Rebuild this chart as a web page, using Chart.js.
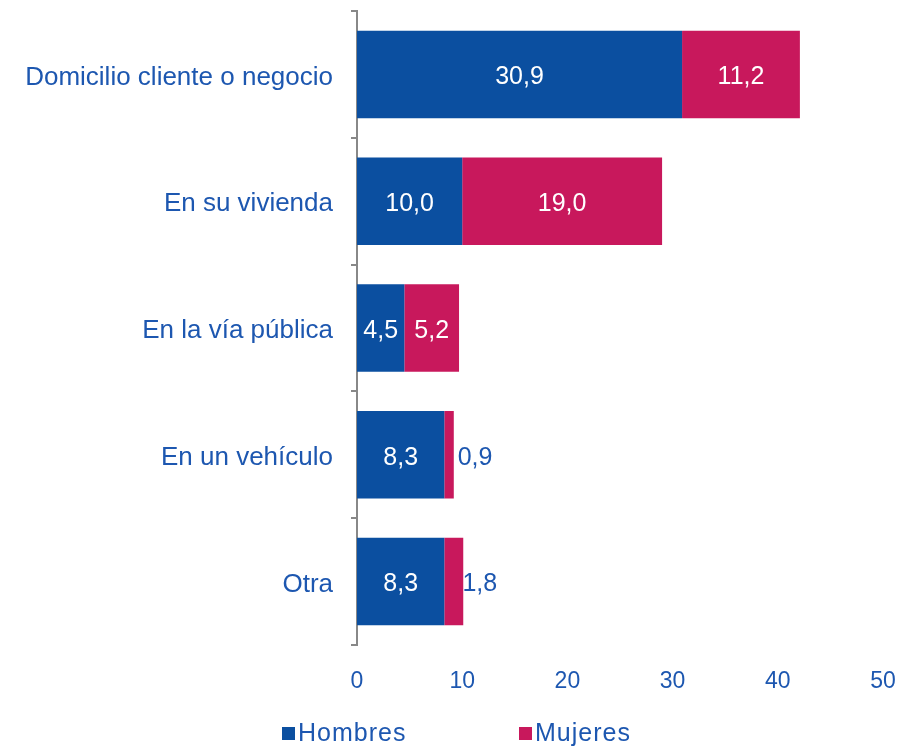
<!DOCTYPE html>
<html lang="es">
<head>
    <meta charset="UTF-8">
    <title>Lugar de trabajo por sexo</title>
    <style>
        body { margin: 0; background: #fff; }
        #wrap { position: relative; width: 897px; height: 746px; font-family: 'Liberation Sans', Arial, sans-serif; }
        .legend-item { position: absolute; top: 717px; font-size: 25px; color: #1d57b0; line-height: 30px; white-space: nowrap; letter-spacing: 1px; }
        .legend-item i { display: inline-block; width: 13px; height: 13px; margin-right: 3px; vertical-align: 1px; }
    </style>
</head>
<body>
    <div id="wrap">
        <canvas id="chart" width="897" height="746" role="img" aria-label="Lugar de trabajo por sexo"></canvas>
        <div class="legend-item" style="left: 282px;"><i style="background:#0b4fa0"></i>Hombres</div>
        <div class="legend-item" style="left: 519px;"><i style="background:#c8185c"></i>Mujeres</div>
    </div>

    <script src="https://cdn.jsdelivr.net/npm/chart.js@4"></script>
    <script>
    const categories = ['Domicilio cliente o negocio', 'En su vivienda', 'En la vía pública', 'En un vehículo', 'Otra'];
    const hombres = [30.9, 10.0, 4.5, 8.3, 8.3];
    const mujeres = [11.2, 19.0, 5.2, 0.9, 1.8];
    const xTicks = [0, 10, 20, 30, 40, 50];

    const blue = '#0b4fa0';
    const pink = '#c8185c';
    const textBlue = '#1d57b0';
    const font = 'Liberation Sans, Arial, sans-serif';

    // value inside each segment; the thin ones get it just to the right, in blue
    const valueLabels = {
        id: 'valueLabels',
        afterDatasetsDraw(chart) {
            const ctx = chart.ctx;
            ctx.save();
            ctx.font = '25px ' + font;
            ctx.textAlign = 'center';
            ctx.textBaseline = 'middle';
            chart.data.datasets.forEach((ds, i) => {
                chart.getDatasetMeta(i).data.forEach((bar, j) => {
                    const v = ds.data[j];
                    const w = Math.abs(bar.x - bar.base);
                    let x = (bar.x + bar.base) / 2;
                    if (w < 30) {
                        ctx.fillStyle = textBlue;
                        x += 26;
                    } else {
                        ctx.fillStyle = '#ffffff';
                    }
                    ctx.fillText(v.toFixed(1).replace('.', ','), x, bar.y + 3);
                });
            });
            ctx.restore();
        }
    };

    new Chart(document.getElementById('chart'), {
        type: 'bar',
        data: {
            labels: categories,
            datasets: [
                { label: 'Hombres', data: hombres, backgroundColor: blue, barPercentage: 1, categoryPercentage: 0.69 },
                { label: 'Mujeres', data: mujeres, backgroundColor: pink, barPercentage: 1, categoryPercentage: 0.69 }
            ]
        },
        options: {
            indexAxis: 'y',
            responsive: false,
            animation: false,
            layout: { padding: { top: 11, right: 14, left: 0, bottom: 0 } },
            scales: {
                x: {
                    stacked: true,
                    min: 0,
                    max: 50,
                    afterBuildTicks(scale) { scale.ticks = xTicks.map(v => ({ value: v })); },
                    afterFit(scale) {
                        scale.height = 101;
                        scale.paddingLeft = 0;
                        scale.paddingRight = 0;
                    },
                    grid: { display: false },
                    border: { display: false },
                    ticks: { color: textBlue, font: { family: font, size: 23 }, padding: 15 }
                },
                y: {
                    stacked: true,
                    afterFit(scale) {
                        scale.width = 357;
                        scale.paddingTop = 0;
                        scale.paddingBottom = 0;
                    },
                    grid: { drawOnChartArea: false, offset: true, color: '#888888', tickLength: 6, lineWidth: 2 },
                    border: { color: '#888888', width: 2 },
                    ticks: { color: textBlue, font: { family: font, size: 26 }, padding: 18, labelOffset: 3 }
                }
            },
            plugins: {
                legend: { display: false },
                tooltip: { enabled: false }
            }
        },
        plugins: [valueLabels]
    });
    </script>
</body>
</html>
